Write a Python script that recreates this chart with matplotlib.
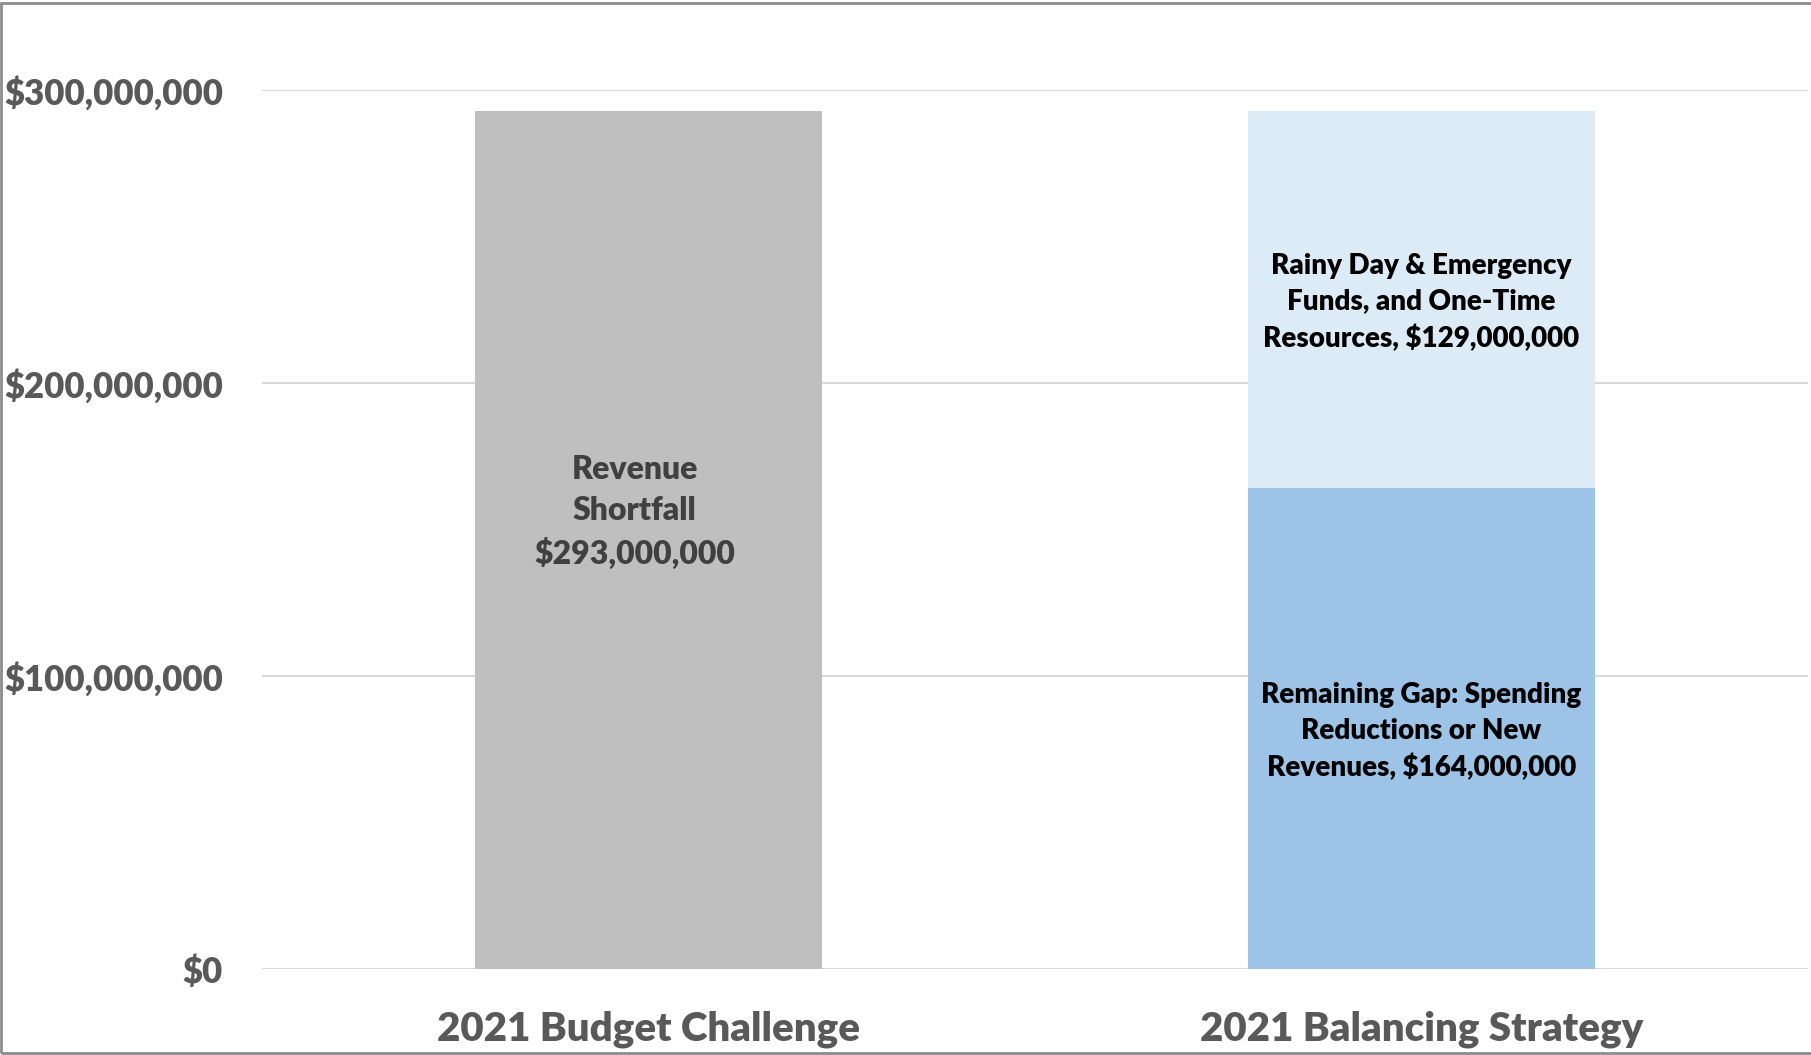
import matplotlib.pyplot as plt
from matplotlib.patches import Rectangle
from matplotlib.ticker import FuncFormatter

categories = ["2021 Budget Challenge", "2021 Balancing Strategy"]
shortfall = [293000000, 0]
gap = [0, 164000000]
reserves = [0, 129000000]
yticks = [0, 100000000, 200000000, 300000000]

plt.rcParams['font.family'] = ['Lato', 'DejaVu Sans']
plt.rcParams['font.weight'] = 800

fig = plt.figure(figsize=(18.11, 10.55), dpi=100)
ax = fig.add_axes([262 / 1811, 86 / 1055, 1546 / 1811, 879 / 1055])

x = [0, 1]
w = 0.45
ax.bar(x[0], shortfall[0], width=w, color='#BFBFBF', zorder=2)
ax.bar(x[1], gap[1], width=w, color='#9DC3E6', zorder=2)
ax.bar(x[1], reserves[1], width=w, bottom=gap[1], color='#DDEBF7', zorder=2)

ax.set_xlim(-0.5, 1.5)
ax.set_ylim(0, 300000000)
ax.set_yticks(yticks)
ax.yaxis.set_major_formatter(FuncFormatter(lambda v, p: "${:,.0f}".format(v)))
ax.grid(axis='y', color='#D9D9D9', linewidth=1.5, zorder=0)
ax.set_axisbelow(True)
for s in ax.spines.values():
    s.set_visible(False)
ax.tick_params(axis='y', length=0, pad=28, labelsize=25, labelcolor='#595959')
ax.set_xticks(x)
ax.set_xticklabels(categories)
ax.tick_params(axis='x', length=0, pad=30, labelsize=29, labelcolor='#595959')
for t in ax.get_yticklabels() + ax.get_xticklabels():
    t.set_fontweight(800)

ax.text(x[0] - 0.018, shortfall[0] * 0.532,
        "Revenue\nShortfall\n${:,.0f}".format(shortfall[0]),
        ha='center', va='center', fontsize=23, color='#404040',
        fontweight=800, linespacing=1.47, zorder=3)
ax.text(x[1], gap[1] + reserves[1] / 2 - 1000000,
        "Rainy Day & Emergency\nFunds, and One-Time\nResources, ${:,.0f}".format(reserves[1]),
        ha='center', va='center', fontsize=20, color='black',
        fontweight=800, linespacing=1.45, zorder=3)
ax.text(x[1], gap[1] / 2 - 1000000,
        "Remaining Gap: Spending\nReductions or New\nRevenues, ${:,.0f}".format(gap[1]),
        ha='center', va='center', fontsize=20, color='black',
        fontweight=800, linespacing=1.45, zorder=3)

fig.patches.append(Rectangle((0.0008, 0.002), 1.2, 0.995, transform=fig.transFigure,
                             fill=False, edgecolor='#8C8C8C', linewidth=2))

fig.savefig("out.png", dpi=100)
